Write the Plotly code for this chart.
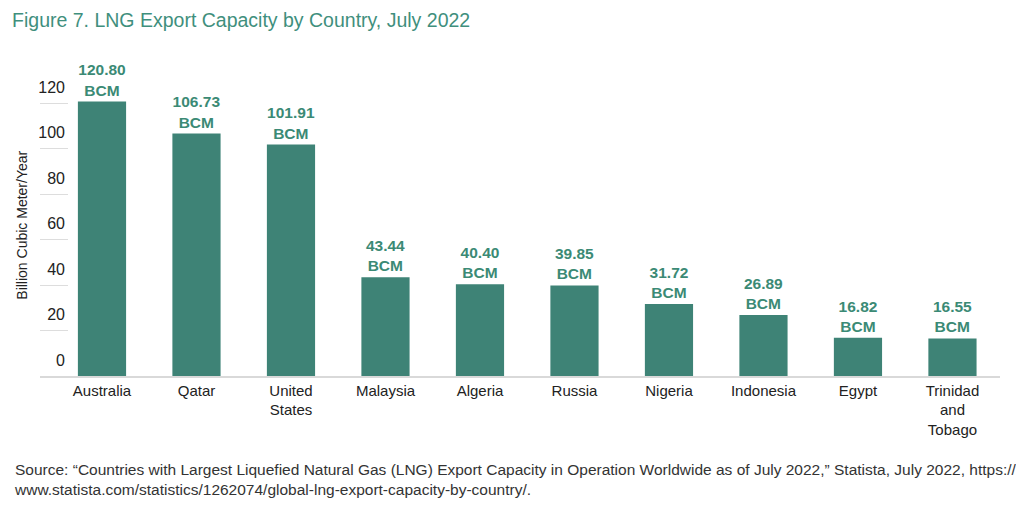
import plotly.graph_objects as go

# LNG export capacity, July 2022 (billion cubic meters per year)
countries = ["Australia", "Qatar", "United<br>States", "Malaysia", "Algeria",
             "Russia", "Nigeria", "Indonesia", "Egypt", "Trinidad<br>and<br>Tobago"]
capacity = [120.80, 106.73, 101.91, 43.44, 40.40, 39.85, 31.72, 26.89, 16.82, 16.55]
y_ticks = [0, 20, 40, 60, 80, 100, 120]

teal = "#3e8376"
label_teal = "#3b8a75"
font = "Liberation Sans, Arial, sans-serif"

fig = go.Figure(go.Bar(
    x=countries,
    y=capacity,
    marker=dict(color=teal, line=dict(width=0)),
    width=0.51,
    texttemplate="%{y:.2f}<br>BCM",
    textposition="outside",
    textfont=dict(family=font, size=15.5, color=label_teal, weight="bold"),
    cliponaxis=False,
))

# page body has an 8px margin, so the figure is sized/offset to fit the window
fig.update_layout(
    width=1016, height=497,
    margin=dict(l=32, r=24, t=50, b=129),
    paper_bgcolor="white", plot_bgcolor="white",
    font=dict(family=font, color="#222222"),
    showlegend=False,
    title=dict(text="Figure 7. LNG Export Capacity by Country, July 2022",
               x=0.004, xanchor="left", y=0.976, yanchor="middle",
               font=dict(family=font, size=19.5, color="#3f8f7d")),
)

fig.update_xaxes(
    range=[-0.656, 9.503],
    showline=True, linecolor="#d9d9d9", linewidth=1.5,
    showgrid=False, ticks="",
    tickfont=dict(size=15, color="#222222"),
    fixedrange=True,
)

fig.update_yaxes(
    range=[0, 140],
    tickvals=y_ticks,
    showgrid=False, zeroline=False, showline=False,
    ticks="inside", ticklen=28, tickcolor="#dddddd", tickwidth=1,
    ticklabelshift=-16, ticklabelstandoff=-26,
    tickfont=dict(size=16, color="#222222"),
    automargin=False,
)

# y axis title
fig.add_annotation(
    text="Billion Cubic Meter/Year", textangle=-90,
    xref="paper", yref="paper", x=-0.019, y=0.475,
    xanchor="center", yanchor="middle", showarrow=False,
    font=dict(family=font, size=14, color="#222222"),
)

fig.add_annotation(
    text=("Source: \u201cCountries with Largest Liquefied Natural Gas (LNG) Export Capacity in "
          "Operation Worldwide as of July 2022,\u201d Statista, July 2022, https://<br>"
          "www.statista.com/statistics/1262074/global-lng-export-capacity-by-country/."),
    xref="paper", yref="paper", x=-0.029, y=-0.261,
    xanchor="left", yanchor="top", align="left", showarrow=False,
    font=dict(family=font, size=15.5, color="#333333"),
)

fig.write_html("out.html")
